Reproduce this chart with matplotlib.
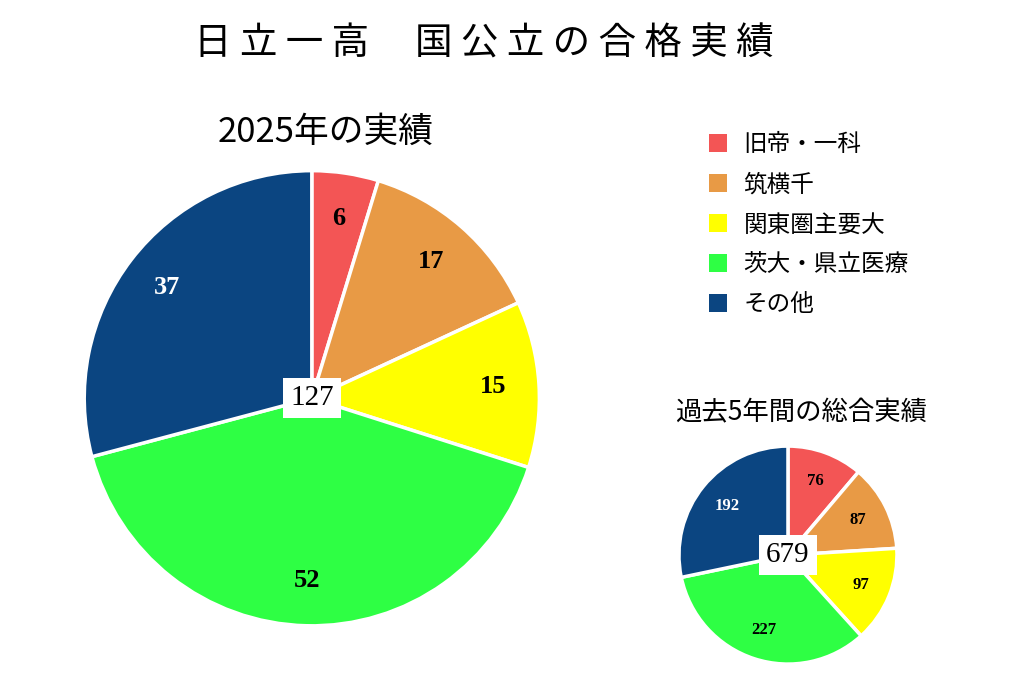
import matplotlib.pyplot as plt
from matplotlib.patches import Patch

plt.rcParams['font.family'] = ['Noto Sans CJK JP']

categories = ['旧帝・一科', '筑横千', '関東圏主要大', '茨大・県立医療', 'その他']
colors = ['#F35555', '#E89A45', '#FFFF00', '#2EFF44', '#0B4581']
vals_2025 = [6, 17, 15, 52, 37]
vals_5yr = [76, 87, 97, 227, 192]
label_colors = ['black', 'black', 'black', 'black', 'white']

fig = plt.figure(figsize=(10.24, 6.79), dpi=100)
fig.text(0.472, 0.935, '日 立 一 高　 国 公 立 の 合 格 実 績', ha='center', va='center', fontsize=27)
fig.text(0.318, 0.805, '2025年の実績', ha='center', va='center', fontsize=25)
fig.text(0.782, 0.392, '過去5年間の総合実績', ha='center', va='center', fontsize=19)


def draw_pie(rect, vals, fs, center_fs, lrad):
    ax = fig.add_axes(rect)
    wedges, texts = ax.pie(vals, colors=colors, startangle=90, counterclock=False,
                           labels=[str(v) for v in vals], labeldistance=lrad,
                           wedgeprops=dict(edgecolor='white', linewidth=2.5))
    for t, c in zip(texts, label_colors):
        t.set_color(c)
        t.set_fontfamily('Liberation Serif')
        t.set_fontweight('bold')
        t.set_fontsize(fs)
        t.set_ha('center')
        t.set_va('center')
    ax.text(0, 0, str(sum(vals)), ha='center', va='center', fontsize=center_fs,
            fontfamily='Liberation Serif',
            bbox=dict(facecolor='white', edgecolor='none', pad=5))
    ax.set_xlim(-1.01, 1.01)
    ax.set_ylim(-1.01, 1.01)
    ax.set_aspect('equal')
    return wedges


draw_pie([0.080, 0.075, 0.449, 0.677], vals_2025, 19, 21, 0.8)
draw_pie([0.662, 0.010, 0.215, 0.345], vals_5yr, 12, 21, 0.72)

handles = [Patch(facecolor=c, edgecolor='none') for c in colors]
fig.legend(handles, categories, loc='upper left', bbox_to_anchor=(0.672, 0.835),
           frameon=False, fontsize=17, handlelength=0.75, handleheight=0.75,
           labelspacing=0.72, handletextpad=0.7)

fig.savefig('out.png', dpi=100)
